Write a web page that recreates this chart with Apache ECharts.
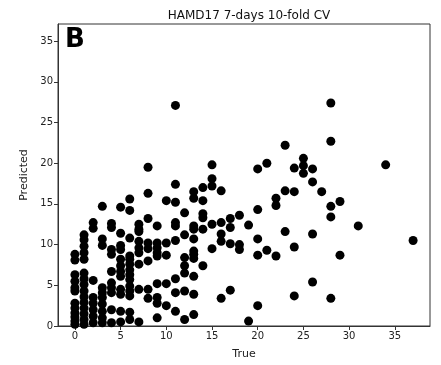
<!DOCTYPE html>
<html><head><meta charset="utf-8">
<script src="https://cdn.jsdelivr.net/npm/echarts@6/dist/echarts.min.js"></script>
<style>html,body{margin:0;padding:0;background:#fff}#c{width:441px;height:365px}</style>
</head><body><div id="c"></div>
<script>
// True HAMD17 score (integer) -> predicted values
const trueScores = [0,1,2,3,4,5,6,7,8,9,10,11,12,13,14,15,16,17,18,19,20,21,22,23,24,25,26,27,28,29,31,34,37];
const predictedByTrue = [
  [8.8, 8.1, 6.3, 5.5, 4.7, 4.3, 2.8, 2.2, 1.6, 1.1, 0.6, 0.2],
  [11.2, 10.6, 9.8, 9.0, 8.2, 6.5, 5.8, 5.1, 4.3, 3.6, 2.9, 2.2, 1.5, 0.8, 0.2],
  [12.7, 12.0, 5.6, 3.5, 2.8, 2.0, 1.2, 0.4],
  [14.7, 10.7, 9.9, 4.7, 4.1, 3.5, 2.7, 1.8, 1.0, 0.4],
  [12.6, 12.1, 9.4, 8.8, 6.7, 5.3, 4.7, 4.1, 2.0, 0.4],
  [14.6, 11.4, 9.9, 9.4, 8.2, 7.4, 6.7, 6.1, 4.5, 3.9, 1.8, 0.5],
  [15.6, 14.2, 10.8, 8.6, 8.2, 7.6, 6.9, 6.3, 5.7, 4.9, 4.3, 3.7, 1.7, 0.8],
  [12.5, 11.9, 11.6, 10.4, 9.6, 9.0, 7.6, 4.5, 0.5],
  [19.5, 16.3, 13.2, 10.2, 9.5, 8.0, 4.5, 3.4],
  [12.3, 10.2, 9.6, 9.0, 8.6, 5.2, 3.5, 2.8, 1.0],
  [15.4, 10.2, 8.7, 5.2, 2.5],
  [27.1, 17.4, 15.2, 12.7, 12.3, 10.5, 5.8, 4.1, 1.8],
  [13.9, 11.2, 8.4, 7.4, 6.5, 4.3, 0.8],
  [16.5, 15.7, 12.3, 11.9, 10.7, 9.2, 8.8, 8.3, 6.1, 3.9, 1.4],
  [17.0, 15.4, 13.8, 13.3, 11.9, 7.4],
  [19.8, 18.1, 17.2, 12.5, 9.5],
  [16.6, 12.7, 11.3, 10.4, 3.4],
  [13.2, 12.1, 10.1, 4.4],
  [13.6, 10.0, 9.4],
  [12.4, 0.6],
  [19.3, 14.3, 10.7, 8.7, 2.5],
  [20.0, 9.3],
  [15.7, 14.8, 8.6],
  [22.2, 16.6, 11.6],
  [19.4, 16.5, 9.7, 3.7],
  [20.6, 19.7, 18.75],
  [19.3, 17.7, 11.3, 5.4],
  [16.5],
  [27.4, 22.7, 14.7, 13.4, 3.4],
  [15.3, 8.7],
  [12.3],
  [19.8],
  [10.5]
];
const xTicks = [0,5,10,15,20,25,30,35];
const yTicks = [0,5,10,15,20,25,30,35];
const titleText = 'HAMD17 7-days 10-fold CV';
const panelLabel = 'B';

const points = [];
trueScores.forEach((t, i) => predictedByTrue[i].forEach(p => points.push([t, p])));

const font = 'DejaVu Sans';
const chart = echarts.init(document.getElementById('c'), null, {renderer: 'canvas'});
chart.setOption({
  animation: false,
  backgroundColor: '#fff',
  title: {text: titleText, left: 244, top: 5, textAlign: 'center',
    textStyle: {fontFamily: font, fontSize: 12, fontWeight: 'normal', color: '#111'}},
  grid: {left: 58, right: 11, top: 24, bottom: 38, show: true, borderColor: '#333', borderWidth: 1, backgroundColor: 'transparent'},
  graphic: [{type: 'text', left: 65, top: 27, style: {text: panelLabel, fontFamily: font, fontSize: 26, fontWeight: 'bold', fill: '#000'}}],
  xAxis: {type: 'value', min: -1.85, max: 38.85, name: 'True', nameLocation: 'middle', nameGap: 23,
    nameTextStyle: {fontFamily: font, fontSize: 11, color: '#222'},
    axisLine: {show: true, onZero: false, lineStyle: {color: '#333'}},
    axisTick: {show: true, length: 4, customValues: xTicks, lineStyle: {color: '#333'}},
    axisLabel: {customValues: xTicks, fontFamily: font, fontSize: 10, color: '#222', margin: 5},
    splitLine: {show: false}},
  yAxis: {type: 'value', min: 0, max: 37.1, name: 'Predicted', nameLocation: 'middle', nameGap: 25,
    nameTextStyle: {fontFamily: font, fontSize: 11, color: '#222'},
    axisLine: {show: true, onZero: false, lineStyle: {color: '#333'}},
    axisTick: {show: true, length: 4, customValues: yTicks, lineStyle: {color: '#333'}},
    axisLabel: {customValues: yTicks, fontFamily: font, fontSize: 10, color: '#222', margin: 5},
    splitLine: {show: false}},
  series: [{type: 'scatter', data: points, symbolSize: 9, itemStyle: {color: '#000', opacity: 1}}]
});
</script></body></html>
